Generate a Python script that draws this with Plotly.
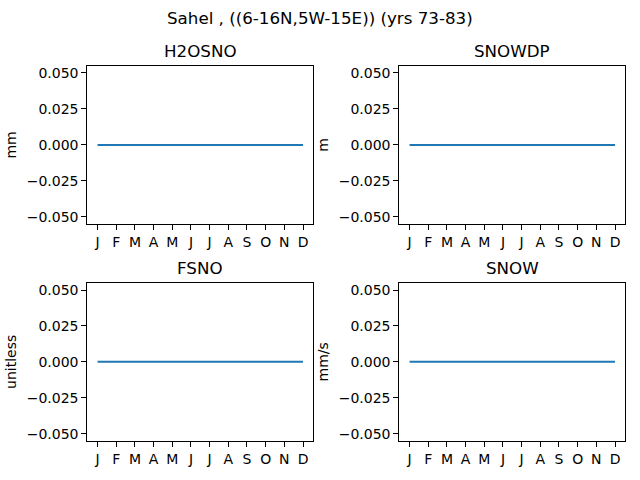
import plotly.graph_objects as go

months = ["J", "F", "M", "A", "M", "J", "J", "A", "S", "O", "N", "D"]
panel_titles = ["H2OSNO", "SNOWDP", "FSNO", "SNOW"]
panel_units = ["mm", "m", "unitless", "mm/s"]
h2osno = [0.0] * 12
snowdp = [0.0] * 12
fsno = [0.0] * 12
snow = [0.0] * 12
series = [h2osno, snowdp, fsno, snow]
ytickvals = [-0.05, -0.025, 0.0, 0.025, 0.05]
yticktext = ["\u22120.050", "\u22120.025", "0.000", "0.025", "0.050"]

W, H = 640, 480
xdoms = [(87.3 / W, 313.3 / W), (399.3 / W, 625.3 / W)]
ydoms = [(1 - 224 / H, 1 - 65 / H), (1 - 441.7 / H, 1 - 283 / H)]

fig = go.Figure()
font = "DejaVu Sans"
annotations = []
for i in range(4):
    r, c = divmod(i, 2)
    n = "" if i == 0 else str(i + 1)
    xs = list(range(12))
    fig.add_trace(go.Scatter(x=xs, y=series[i], mode="lines",
                             line=dict(color="#1f77b4", width=2),
                             xaxis="x" + n, yaxis="y" + n, showlegend=False))
    xa = dict(domain=list(xdoms[c]), range=[-0.55, 11.55], tickvals=xs, ticktext=months,
              anchor="y" + n, showgrid=False, zeroline=False, showline=True, mirror=True,
              linecolor="black", linewidth=1, ticks="outside", ticklen=5, tickcolor="black",
              tickfont=dict(family=font, size=14, color="black"))
    ya = dict(domain=list(ydoms[r]), range=[-0.055, 0.055], tickvals=ytickvals, ticktext=yticktext,
              anchor="x" + n, showgrid=False, zeroline=False, showline=True, mirror=True,
              linecolor="black", linewidth=1, ticks="outside", ticklen=5, tickcolor="black",
              tickfont=dict(family=font, size=14, color="black"),
              title=dict(text=panel_units[i], font=dict(family=font, size=14, color="black"), standoff=6))
    fig.layout["xaxis" + n] = xa
    fig.layout["yaxis" + n] = ya
    annotations.append(dict(text=panel_titles[i], x=(xdoms[c][0] + xdoms[c][1]) / 2,
                            y=ydoms[r][1], xref="paper", yref="paper", yshift=3,
                            xanchor="center", yanchor="bottom", showarrow=False,
                            font=dict(family=font, size=16.7, color="black")))

annotations.append(dict(text="Sahel , ((6-16N,5W-15E)) (yrs 73-83)", x=0.5, y=1 - 17 / H,
                        xref="paper", yref="paper", xanchor="center", yanchor="middle",
                        showarrow=False, font=dict(family=font, size=16.7, color="black")))
fig.update_layout(width=W, height=H, margin=dict(l=0, r=0, t=0, b=0),
                  plot_bgcolor="white", paper_bgcolor="white", annotations=annotations)
fig.write_html("out.html", config={"displayModeBar": False},
               post_script="document.body.style.margin='0';")
